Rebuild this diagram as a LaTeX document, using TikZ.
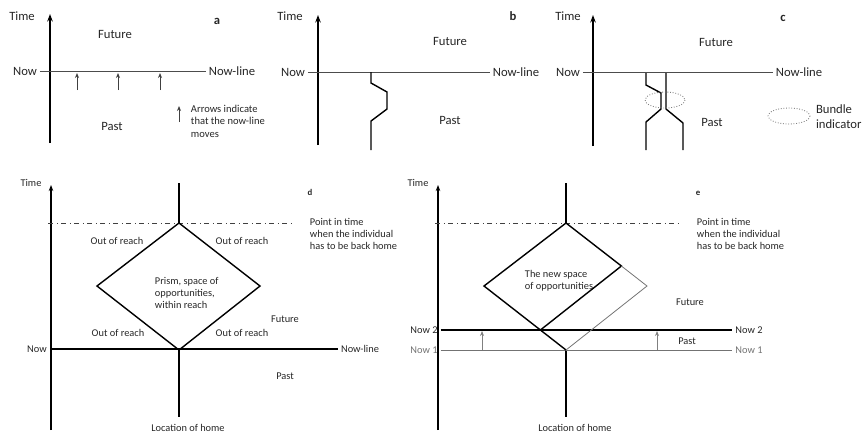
\documentclass[tikz,border=0pt]{standalone}
\usepackage{fontspec}
\setmainfont{Carlito}
\usetikzlibrary{arrows.meta}

\begin{document}
\begin{tikzpicture}[
  x=0.02cm, y=-0.02cm,
  axis/.style={-{Stealth[length=1.5mm,width=1.1mm]}, line width=1.3pt},
  thinaxis/.style={-{Stealth[length=1.2mm,width=0.9mm]}, line width=0.6pt},
  nowline/.style={line width=0.5pt, black!70},
  lifeline/.style={line width=0.8pt},
  move/.style={-{Stealth[length=1mm,width=0.8mm]}, line width=0.5pt, black!75},
  bundle/.style={densely dotted, line width=0.5pt, black!50},
  prism/.style={line width=0.8pt},
  oldprism/.style={line width=0.45pt, black!55},
  deadline/.style={dash dot, line width=0.5pt, black!75},
  panel/.style={font=\fontsize{7.2}{9}\selectfont\bfseries},
  small/.style={font=\fontsize{5.9}{6.9}\selectfont},
  every node/.style={font=\fontsize{7.2}{8.6}\selectfont, inner sep=1.5pt, text=black!85}]

\useasboundingbox (0,0) rectangle (868,434);

% ---- shared frame of d and e: axis, home, return deadline ---------------
% local x: axis at 51, home at 179; deadline at y=223, prism top on it
\newcommand{\homeframe}{%
  \node[small] (time) at (31,183) {Time};
  \draw[thinaxis] (51,430) -- (51,185);
  \coordinate (top) at (179,223);
  \coordinate (home) at (179,350);
  \draw[prism] (179,183) -- (top) (home) -- (179,417);
  \draw[deadline] (48,223) -- (295,223);
  \node[small, anchor=west, align=left] (back) at (307,234)
    {Point in time\\when the individual\\has to be back home};
  \node[small] (loc) at (188,428) {Location of home};}

% ======================= a: the moving now-line =========================
\node (timeA) at (22,16) {Time};
\draw[axis] (50,143) -- (50,14);
\node (nowA) at (25,71) {Now};
\node (lineA) at (232,71) {Now-line};
\draw[nowline] (nowA) -- (lineA);
\node (futA) at (115,34) {Future};
\node (pastA) at (112,126) {Past};
\node[panel] (a) at (217,21) {a};
\foreach \x in {77,118,160}
  \draw[move] (\x,90) -- (\x,73);
\draw[move] (179,122) -- (179,106);
\node[anchor=west, align=left, font=\fontsize{6}{7.1}\selectfont] (arrowsA) at (188,121)
  {Arrows indicate\\that the now-line\\moves};

% ======================= b: one individual path =========================
\node (timeB) at (290,16) {Time};
\draw[axis] (318,145) -- (318,15);
\node (nowB) at (293,72) {Now};
\node (lineB) at (516,72) {Now-line};
\draw[nowline] (nowB) -- (lineB);
\node (futB) at (450,41) {Future};
\node (pastB) at (450,120) {Past};
\node[panel] (b) at (513,16) {b};
\draw[lifeline] (371,72) -- (371,83) -- (387,92) -- (387,109)
  -- (371,121) -- (371,150);

% ======================= c: two paths in a bundle =======================
\node (timeC) at (568,16) {Time};
\draw[axis] (593,146) -- (593,15);
\node (nowC) at (568,72) {Now};
\node (lineC) at (799,72) {Now-line};
\draw[nowline] (nowC) -- (lineC);
\node (futC) at (716,42) {Future};
\node (pastC) at (712,122) {Past};
\node[panel] (c) at (783,18) {c};
\draw[lifeline] (646,73) -- (646,85) -- (661,93) -- (661,109)
  -- (646,122) -- (646,150);
\draw[lifeline] (666,73) -- (666,109) -- (683,123) -- (683,150);
\draw[bundle] (665,100) ellipse (20 and 8);
\draw[bundle] (789,116) ellipse (21 and 8);
\node[anchor=west, align=left] (bundleC) at (813,117) {Bundle\\indicator};

% ======================= d: the prism ===================================
\homeframe
\node[small] (nowD) at (37,349) {Now};
\node[small] (lineD) at (360,349) {Now-line};
\draw[prism] (nowD) -- (lineD);
\draw[prism] (top) -- (97,286) -- (home) -- (260,286) -- cycle;
\node[font=\fontsize{5}{6}\selectfont\bfseries] (d) at (310,192) {d};
\node[small] (outNW) at (117,241) {Out of reach};
\node[small] (outNE) at (242,241) {Out of reach};
\node[small] (outSW) at (118,333) {Out of reach};
\node[small] (outSE) at (242,333) {Out of reach};
\node[small, anchor=west, align=left] (prismD) at (152,293)
  {Prism, space of\\opportunities,\\within reach};
\node[small] (futD) at (285,319) {Future};
\node[small] (pastD) at (285,376) {Past};

% ======================= e: now moved up, prism shrinks =================
\begin{scope}[shift={(387,0)}]
  \homeframe
  \node[small] (now2L) at (37,330) {Now 2};
  \node[small] (now2R) at (362,330) {Now 2};
  \node[small, text=black!55] (now1L) at (37,350) {Now 1};
  \node[small, text=black!55] (now1R) at (362,350) {Now 1};
  \draw[prism] (now2L) -- (now2R);
  \draw[oldprism] (now1L) -- (now1R);
  % new bottom: left edge meets y=330; new right: parallel to old lower edge
  \draw[prism] (top) -- (97,286) -- (153.4,330) -- (home)
    (153.4,330) -- (234.4,266) -- (top);
  \draw[oldprism] (234.4,266) -- (260,286) -- (home);
  \foreach \x in {95,270}
    \draw[move, black!50] (\x,350) -- (\x,331);
  \node[font=\fontsize{5}{6}\selectfont\bfseries] (e) at (311,193) {e};
  \node[small, anchor=west, align=left] (newE) at (135,281)
    {The new space\\of opportunities};
  \node[small] (futE) at (303,302) {Future};
  \node[small] (pastE) at (300,341) {Past};
\end{scope}

\end{tikzpicture}
\end{document}
